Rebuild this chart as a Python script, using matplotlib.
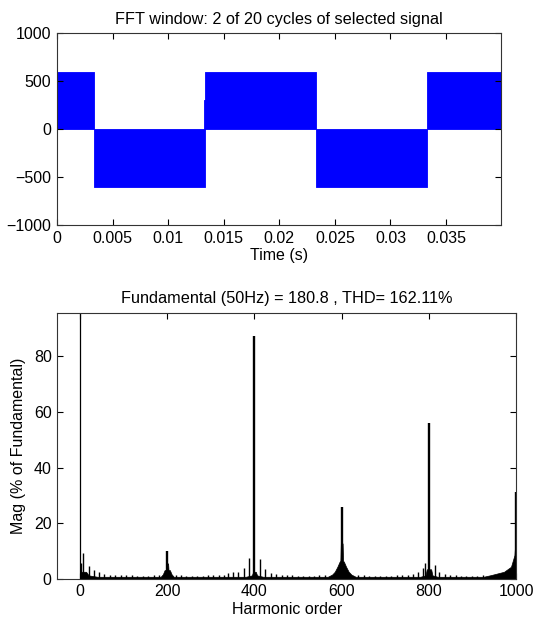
import matplotlib
matplotlib.use("Agg")
import matplotlib.pyplot as plt

plt.rcParams['font.family'] = ['Liberation Sans', 'DejaVu Sans']
plt.rcParams['font.size'] = 11.5

# top: selected signal, 2 cycles (blocks of the switched voltage)
seg_start = [0, 0.00333, 0.01333, 0.02333, 0.03333]
seg_end = [0.00333, 0.01333, 0.02333, 0.03333, 0.03995]
seg_level = [600, -600, 600, -600, 600]
notch_t = [0.01322, 0.01334]
notch_level = 300

time_ticks = [0, 0.005, 0.01, 0.015, 0.02, 0.025, 0.03, 0.035]
time_labels = ['0', '0.005', '0.01', '0.015', '0.02', '0.025', '0.03', '0.035']

# bottom: harmonic spectrum (% of fundamental)
peak_order = [1, 200, 400, 600, 800, 1000]
peak_mag = [100, 10.0, 87.3, 25.7, 55.9, 31.3]

comb_order = [2, 8, 20, 32, 44, 56, 69, 81, 94, 106, 119, 131, 144, 156, 169, 181,
              219, 231, 244, 256, 269, 281, 294, 306, 319, 331, 340, 351, 363, 375, 388,
              412, 425, 437, 449, 462, 474, 487, 499, 512, 524, 537, 549, 562,
              638, 651, 663, 676, 688, 701, 713, 726, 738, 751, 763, 776, 786, 792,
              813, 823, 836, 848, 861, 873, 886, 898, 911, 923]
comb_mag = [5.5, 9.1, 4.7, 3.2, 2.3, 1.7, 1.5, 1.3, 1.3, 1.2, 1.2, 1.1, 1.1, 1.1, 1.2, 1.4,
            1.4, 1.2, 1.1, 1.1, 1.1, 1.1, 1.2, 1.2, 1.3, 1.5, 1.9, 2.3, 2.5, 3.7, 7.3,
            7.0, 3.4, 2.1, 1.7, 1.4, 1.2, 1.2, 1.1, 1.1, 1.1, 1.1, 1.2, 1.3,
            1.3, 1.2, 1.1, 1.1, 1.1, 1.1, 1.1, 1.2, 1.3, 1.4, 1.8, 2.5, 3.9, 5.5,
            4.9, 2.5, 1.8, 1.4, 1.2, 1.1, 1.1, 1.1, 1.1, 1.2]

# dense low-level bars drawn as an envelope
env_order = [0, 14, 20, 40,
             185, 190, 194, 197, 198, 202, 203, 206, 210, 215,
             380, 394, 397, 403, 406, 420,
             568, 578, 584, 590, 595, 597, 598, 602, 603, 605, 610, 616, 622, 632,
             780, 792, 795, 805, 808, 820,
             925, 942, 957, 972, 988, 996, 999, 1000]
env_mag = [2.5, 2.5, 1.2, 0.7,
           0.7, 1.6, 3.1, 3.1, 5.5, 5.5, 3.1, 3.1, 1.6, 0.7,
           0.7, 1.2, 2.5, 2.5, 1.2, 0.7,
           0.7, 1.5, 2.5, 4.3, 6.1, 6.5, 12.7, 12.7, 6.5, 6.1, 4.3, 2.5, 1.5, 0.7,
           0.7, 1.2, 3.4, 3.4, 1.2, 0.7,
           0.7, 1.3, 1.9, 2.5, 4.3, 8.5, 16.0, 31.3]

fig = plt.figure(figsize=(5.33, 6.27), dpi=100)

ax1 = fig.add_axes([0.107, 0.641, 0.833, 0.306])
for s, e, lv in zip(seg_start, seg_end, seg_level):
    ax1.fill_between([s, e], 0, lv, color='#0000ff', lw=0.6)
ax1.fill_between(notch_t, 0, notch_level, color='#0000ff', lw=0.6)
ax1.set_xlim(0, 0.03995)
ax1.set_ylim(-1000, 1000)
ax1.set_xticks(time_ticks)
ax1.set_xticklabels(time_labels)
ax1.set_yticks([-1000, -500, 0, 500, 1000])
ax1.set_title('FFT window: 2 of 20 cycles of selected signal', fontsize=11.7, pad=7)
ax1.set_xlabel('Time (s)', labelpad=2)

ax2 = fig.add_axes([0.1075, 0.077, 0.861, 0.424])
ax2.fill_between(env_order, 0, env_mag, color='black', lw=0.5)
ax2.vlines(comb_order, 0, comb_mag, color='black', lw=1.0)
ax2.vlines(peak_order[1:], 0, peak_mag[1:], color='black', lw=1.7)
ax2.vlines(peak_order[:1], 0, peak_mag[:1], color='black', lw=0.9)
ax2.set_xlim(-52, 1000)
ax2.set_ylim(0, 95.7)
ax2.set_xticks([0, 200, 400, 600, 800, 1000])
ax2.set_yticks([0, 20, 40, 60, 80])
ax2.set_title('Fundamental (50Hz) = 180.8 , THD= 162.11%', fontsize=11.7, pad=7)
ax2.set_xlabel('Harmonic order', labelpad=2)
ax2.set_ylabel('Mag (% of Fundamental)', labelpad=6)

for ax in (ax1, ax2):
    ax.tick_params(direction='in', top=True, right=True, length=4, width=0.8, pad=4)
    for sp in ax.spines.values():
        sp.set_color('#333333')
        sp.set_linewidth(0.8)

fig.savefig('out.png', dpi=100)
